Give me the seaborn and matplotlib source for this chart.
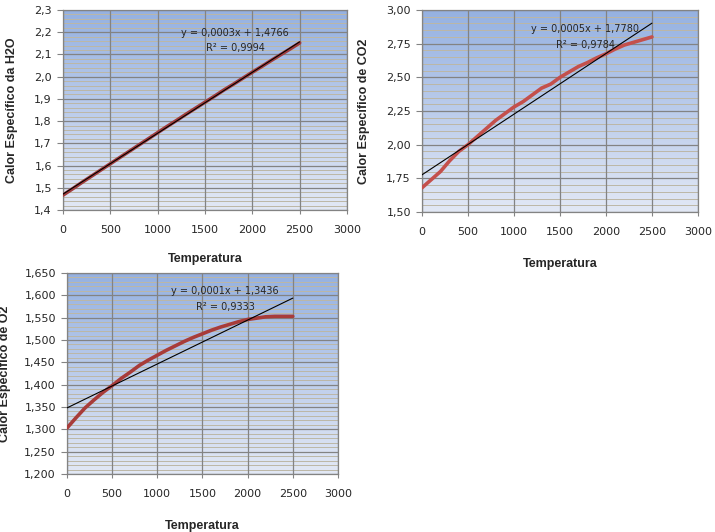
import numpy as np
import pandas as pd
import matplotlib
matplotlib.use("Agg")
import matplotlib.pyplot as plt
from matplotlib.ticker import MultipleLocator, FuncFormatter
from matplotlib.colors import LinearSegmentedColormap
import seaborn as sns

# temperatures (same for the three gases)
temperatura = [0, 100, 200, 300, 400, 500, 600, 700, 800, 900, 1000, 1100, 1200,
               1300, 1400, 1500, 1600, 1700, 1800, 1900, 2000, 2100, 2200, 2300,
               2400, 2500]

# calor especifico
cp_h2o = [1.467, 1.495, 1.524, 1.552, 1.580, 1.608, 1.636, 1.664, 1.692, 1.720,
          1.748, 1.776, 1.803, 1.831, 1.858, 1.885, 1.912, 1.940, 1.966, 1.993,
          2.020, 2.046, 2.073, 2.099, 2.125, 2.152]
cp_co2 = [1.68, 1.74, 1.80, 1.88, 1.95, 2.00, 2.06, 2.12, 2.18, 2.23, 2.28, 2.32,
          2.37, 2.42, 2.45, 2.50, 2.54, 2.58, 2.61, 2.645, 2.675, 2.71, 2.74,
          2.76, 2.78, 2.80]
cp_o2 = [1.303, 1.326, 1.348, 1.366, 1.383, 1.398, 1.414, 1.428, 1.443, 1.455,
         1.466, 1.477, 1.487, 1.497, 1.506, 1.514, 1.522, 1.529, 1.535, 1.541,
         1.546, 1.549, 1.552, 1.553, 1.553, 1.553]

eq_h2o = ["y = 0,0003x + 1,4766", "R² = 0,9994"]
eq_co2 = ["y = 0,0005x + 1,7780", "R² = 0,9784"]
eq_o2 = ["y = 0,0001x + 1,3436", "R² = 0,9333"]

sns.set_style("white")
plt.rcParams["font.family"] = ["DejaVu Sans"]

bg = LinearSegmentedColormap.from_list("bg", ["#e2e8f5", "#95b1e1"])
grad = np.linspace(0, 1, 256).reshape(-1, 1)


def panel(ax, y, color, ylabel, ylim, major, decimals, eq, eq_pos, ylab_x, xlab_y):
    df = pd.DataFrame({"T": temperatura, "cp": y})

    ax.imshow(grad, extent=[0, 1, 0, 1], transform=ax.transAxes, aspect="auto",
              cmap=bg, origin="lower", zorder=0)

    sns.lineplot(data=df, x="T", y="cp", ax=ax, color=color, linewidth=2.6,
                 zorder=3)
    sns.regplot(data=df, x="T", y="cp", ax=ax, scatter=False, ci=None,
                color="black", line_kws={"linewidth": 0.8, "zorder": 4})

    ax.set_xlim(0, 3000)
    ax.set_ylim(*ylim)
    ax.xaxis.set_major_locator(MultipleLocator(500))
    ax.yaxis.set_major_locator(MultipleLocator(major))
    ax.yaxis.set_minor_locator(MultipleLocator(major / 5))
    ax.yaxis.set_major_formatter(
        FuncFormatter(lambda v, p: f"{v:.{decimals}f}".replace(".", ",")))

    ax.set_axisbelow(True)
    ax.grid(True, which="minor", axis="y", color="#bcb7a6", linewidth=0.7,
            linestyle="-")
    ax.grid(True, which="major", color="#838383", linewidth=0.9, linestyle="-")
    # vertical grid lines on top of the minor horizontal ones
    ax.xaxis.set_zorder(0.7)
    for s in ax.spines.values():
        s.set_color("#838383")
        s.set_linewidth(0.9)

    ax.tick_params(axis="y", which="major", length=4, color="#838383", pad=4,
                   labelsize=8, left=True)
    ax.tick_params(axis="y", which="minor", length=0)
    ax.tick_params(axis="x", which="major", length=3, color="#838383", pad=8,
                   labelsize=8, bottom=True)

    ax.set_xlabel("Temperatura", fontsize=9, fontweight="bold",
                  family="Liberation Sans")
    ax.set_ylabel(ylabel, fontsize=9, fontweight="bold", family="Liberation Sans")
    ax.xaxis.set_label_coords(0.5, xlab_y)
    ax.yaxis.set_label_coords(ylab_x, 0.5)

    ax.text(eq_pos[0], eq_pos[1], eq[0], transform=ax.transAxes, ha="center",
            va="center", fontsize=7, zorder=5)
    ax.text(eq_pos[0], eq_pos[2], eq[1], transform=ax.transAxes, ha="center",
            va="center", fontsize=7, zorder=5)


fig = plt.figure(figsize=(7.15, 5.32), dpi=100)
ax1 = fig.add_axes([0.0881, 0.6053, 0.3972, 0.3759])
ax2 = fig.add_axes([0.5902, 0.6015, 0.3860, 0.3797])
ax3 = fig.add_axes([0.0937, 0.1090, 0.3790, 0.3778])

panel(ax1, cp_h2o, "#a03c3c", "Calor Específico da H2O", (1.4, 2.3), 0.1, 1,
      eq_h2o, (0.606, 0.8835, 0.8115), -0.158, -0.215)
panel(ax2, cp_co2, "#c4504c", "Calor Específico de CO2", (1.5, 3.0), 0.25, 2,
      eq_co2, (0.591, 0.904, 0.827), -0.188, -0.228)
panel(ax3, cp_o2, "#a83c3a", "Calor Específico de O2", (1.2, 1.65), 0.05, 3,
      eq_o2, (0.583, 0.910, 0.832), -0.205, -0.228)

fig.savefig("out.png", dpi=100)
